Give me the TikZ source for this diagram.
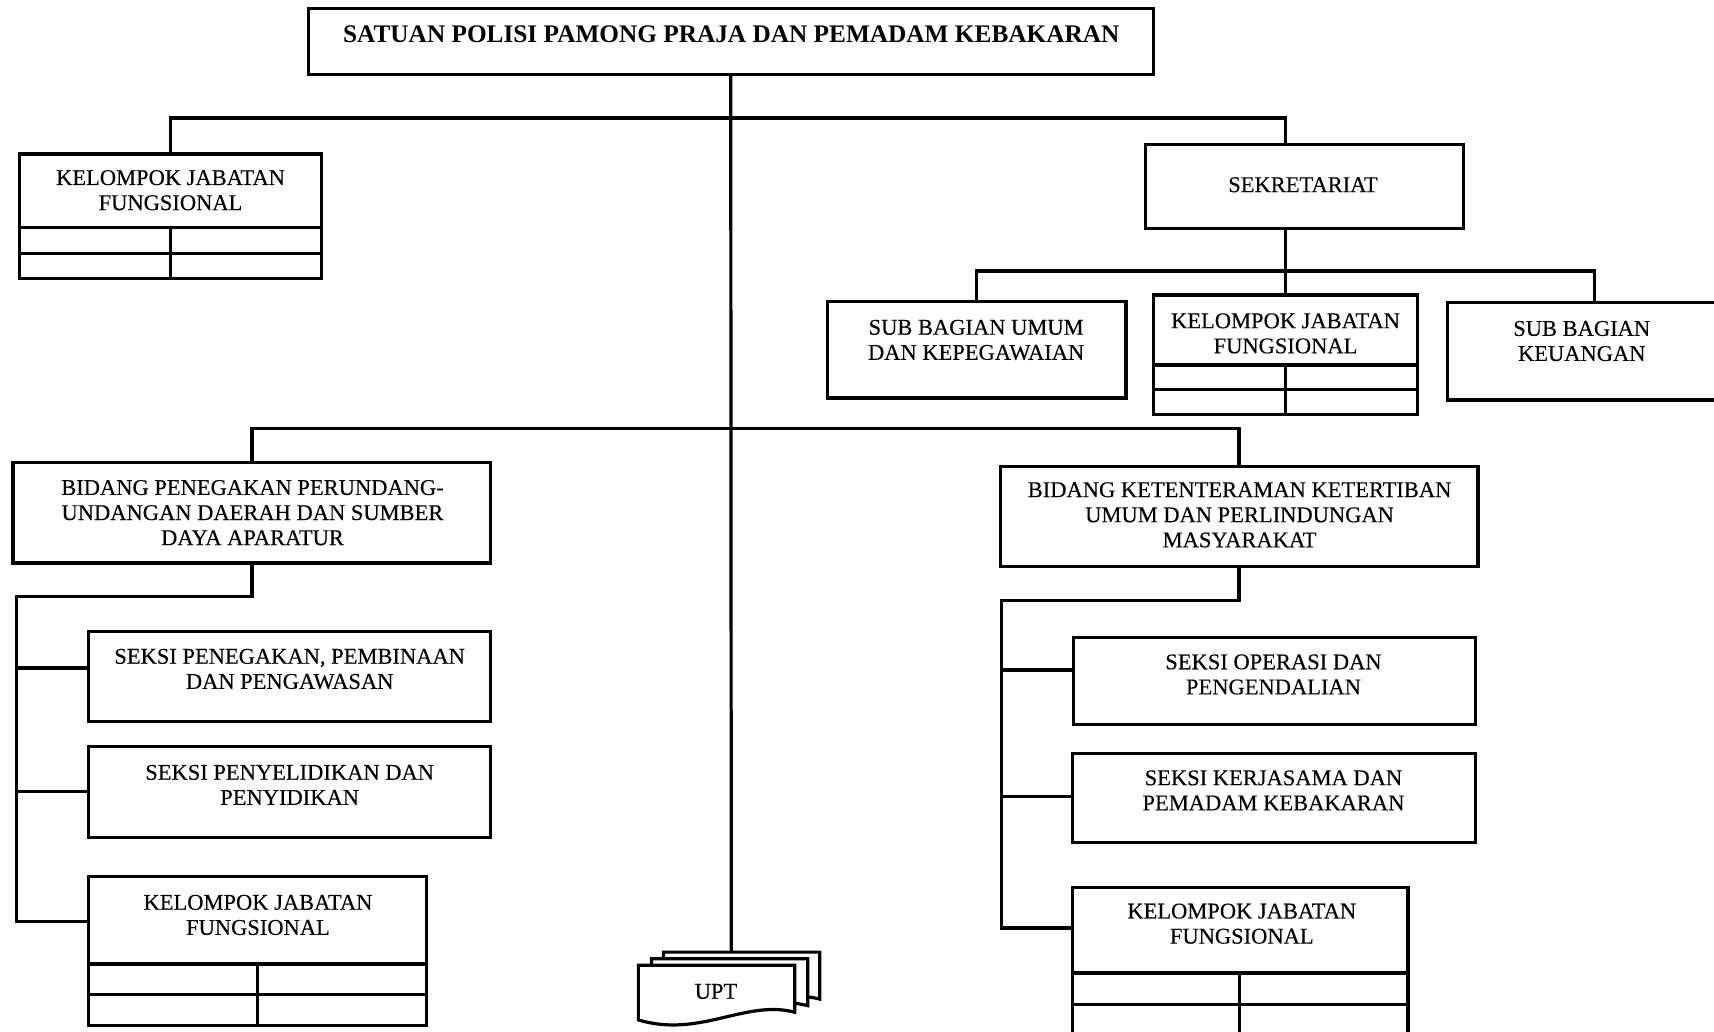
\documentclass[tikz,border=0pt]{standalone}
\usepackage{fontspec}
\setmainfont{Liberation Serif}
\newfontfamily\boxfont{Liberation Serif}[FakeBold=0.25]
\usetikzlibrary{fit}
\begin{document}
\begin{tikzpicture}[x=1.0931pt, y=-1.0931pt,
  orgbox/.style={draw=black, line width=3.3pt, inner sep=0pt, fill=white},
  grid/.style={line width=3.3pt},
  link/.style={line width=3.2pt, line join=miter},
  lbl/.style={align=center, inner sep=0pt, font=\boxfont\fontsize{22.5}{25.1}\selectfont},
  ttl/.style={align=center, inner sep=0pt, font=\bfseries\fontsize{25.3}{28}\selectfont},
  sheet/.style={draw=black, fill=white, line width=3.2pt, line join=miter}]

\useasboundingbox (0,0) rectangle (1568,944);
\clip (0,0) rectangle (1568,944);
\fill[white] (0,0) rectangle (1568,944);

% ---------- boxes ----------
\node[orgbox, fit={(282,8) (1055,68)}] (top) {};
\node[ttl] (top-t) at (669,31) {SATUAN POLISI PAMONG PRAJA DAN PEMADAM KEBAKARAN};

% functional group (top left)
\node[orgbox, fit={(18,141) (294,255)}] (kjfA) {};
\node[lbl] (kjfA-t) at (156,174) {KELOMPOK JABATAN\\FUNGSIONAL};
\coordinate (kjfA-r1) at (18,208);
\coordinate (kjfA-r2) at (18,232);
\draw[grid] (kjfA-r1) -- (kjfA-r1 -| kjfA.east);
\draw[grid] (kjfA-r2) -- (kjfA-r2 -| kjfA.east);
\draw[grid] (kjfA.south) -- (kjfA.south |- kjfA-r1);

% secretariat
\node[orgbox, fit={(1048,132) (1339,209)}] (sek) {};
\node[lbl] (sek-t) at (1192,169) {SEKRETARIAT};

\node[orgbox, fit={(757,276) (1030,364)}] (sbu) {};
\node[lbl] (sbu-t) at (893,311) {SUB BAGIAN UMUM\\DAN KEPEGAWAIAN};

\node[orgbox, fit={(1055,270) (1297,379)}] (kjfB) {};
\node[lbl] (kjfB-t) at (1176,305) {KELOMPOK JABATAN\\FUNGSIONAL};
\coordinate (kjfB-r1) at (1055,334);
\coordinate (kjfB-r2) at (1055,356);
\draw[grid] (kjfB-r1) -- (kjfB-r1 -| kjfB.east);
\draw[grid] (kjfB-r2) -- (kjfB-r2 -| kjfB.east);
\draw[grid] (kjfB.south) -- (kjfB.south |- kjfB-r1);

\node[orgbox, fit={(1324,277) (1572,366)}] (sbk) {};
\node[lbl] (sbk-t) at (1447,312) {SUB BAGIAN\\KEUANGAN};

% left division
\node[orgbox, fit={(12,423) (449,515)}] (bidL) {};
\node[lbl] (bidL-t) at (231,469) {BIDANG PENEGAKAN PERUNDANG-\\UNDANGAN DAERAH DAN SUMBER\\DAYA APARATUR};

\node[orgbox, fit={(81,578) (449,660)}] (sppp) {};
\node[lbl] (sppp-t) at (265,612) {SEKSI PENEGAKAN, PEMBINAAN\\DAN PENGAWASAN};

\node[orgbox, fit={(81,683) (449,766)}] (spp) {};
\node[lbl] (spp-t) at (265,718) {SEKSI PENYELIDIKAN DAN\\PENYIDIKAN};

\node[orgbox, fit={(81,802) (390,938)}] (kjfC) {};
\node[lbl] (kjfC-t) at (236,837) {KELOMPOK JABATAN\\FUNGSIONAL};
\coordinate (kjfC-r1) at (81,882);
\coordinate (kjfC-r2) at (81,910);
\draw[grid] (kjfC-r1) -- (kjfC-r1 -| kjfC.east);
\draw[grid] (kjfC-r2) -- (kjfC-r2 -| kjfC.east);
\draw[grid] (kjfC.south) -- (kjfC.south |- kjfC-r1);

% right division
\node[orgbox, fit={(915,427) (1352,518)}] (bidR) {};
\node[lbl] (bidR-t) at (1134,471) {BIDANG KETENTERAMAN KETERTIBAN\\UMUM DAN PERLINDUNGAN\\MASYARAKAT};

\node[orgbox, fit={(982,583) (1350,663)}] (sop) {};
\node[lbl] (sop-t) at (1165,617) {SEKSI OPERASI DAN\\PENGENDALIAN};

\node[orgbox, fit={(981,689) (1350,771)}] (skpk) {};
\node[lbl] (skpk-t) at (1165,723) {SEKSI KERJASAMA DAN\\PEMADAM KEBAKARAN};

\node[orgbox, fit={(981,812) (1288,980)}] (kjfD) {};
\node[lbl] (kjfD-t) at (1136,845) {KELOMPOK JABATAN\\FUNGSIONAL};
\coordinate (kjfD-r1) at (981,890);
\coordinate (kjfD-r2) at (981,919);
\coordinate (kjfD-div) at (1134,890);
\draw[grid] (kjfD-r1) -- (kjfD-r1 -| kjfD.east);
\draw[grid] (kjfD-r2) -- (kjfD-r2 -| kjfD.east);
\draw[grid] (kjfD-div) -- (kjfD-div |- kjfD.south);

% UPT: stacked document sheets
\foreach \dx/\dy in {23/-12, 12/-6, 0/0}{
  \draw[sheet, shift={(\dx,\dy)}] (584,883) -- (727,883) -- (727,926)
    .. controls (682,914) and (640,950) .. (584,933) -- cycle;
}
\node[lbl] (upt) at (655,907) {UPT};
\coordinate (upt-top) at (669,871);

% ---------- connectors ----------
\coordinate (hub1) at (669,108);
\coordinate (hub2) at (669,392);
\coordinate (sekdrop) at (1176,132);
\coordinate (sekbus) at (1176,248);
\coordinate (sbkdrop) at (1459,277);

\draw[link] (top.south) -- (upt-top);
\draw[link] (kjfA.north) |- (hub1) -| (sekdrop);
\draw[link] (sekdrop |- sek.south) -- (kjfB.north);
\draw[link] (sbu.north) |- (sekbus) -| (sbkdrop);
\draw[link] (bidL.north) |- (hub2) -| (bidR.north);

% left section tree
\coordinate (lrailT) at (15,546);
\coordinate (lrailB) at (15,843);
\coordinate (lb1) at (15,611);
\coordinate (lb2) at (15,724);
\draw[link] (bidL.south) |- (lrailT) -- (lrailB) -- (lrailB -| kjfC.west);
\draw[link] (lb1) -- (lb1 -| sppp.west);
\draw[link] (lb2) -- (lb2 -| spp.west);

% right section tree
\coordinate (rrailT) at (916,549);
\coordinate (rrailB) at (916,849);
\coordinate (rb1) at (916,613);
\coordinate (rb2) at (916,729);
\draw[link] (bidR.south) |- (rrailT) -- (rrailB) -- (rrailB -| kjfD.west);
\draw[link] (rb1) -- (rb1 -| sop.west);
\draw[link] (rb2) -- (rb2 -| skpk.west);

\end{tikzpicture}
\end{document}
